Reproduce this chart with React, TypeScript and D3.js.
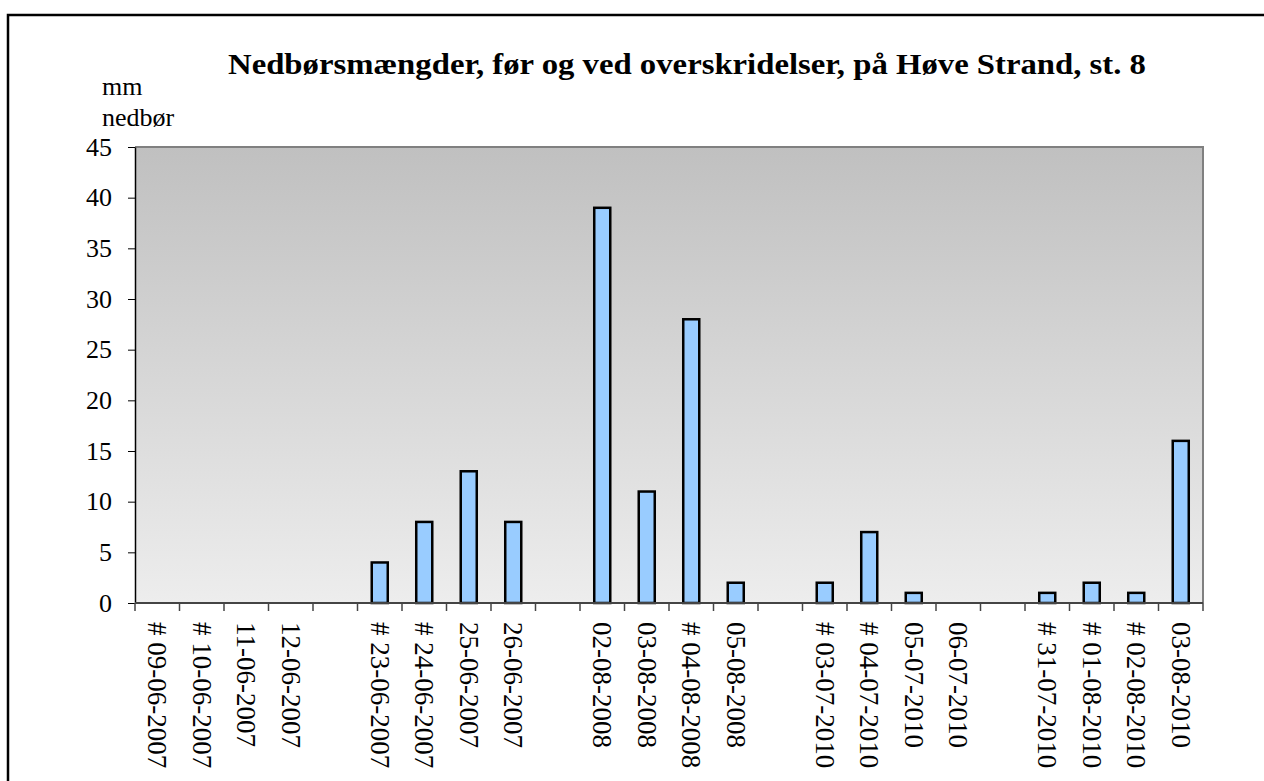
import React, { useEffect, useRef } from 'react';
import * as d3 from 'd3';

// slots: blank entries are the gaps between groups
const categories = [
  '# 09-06-2007', '# 10-06-2007', '11-06-2007', '12-06-2007', '',
  '# 23-06-2007', '# 24-06-2007', '25-06-2007', '26-06-2007', ' ',
  '02-08-2008', '03-08-2008', '# 04-08-2008', '05-08-2008', '  ',
  '# 03-07-2010', '# 04-07-2010', '05-07-2010', '06-07-2010', '   ',
  '# 31-07-2010', '# 01-08-2010', '# 02-08-2010', '03-08-2010',
];
const values: (number | null)[] = [
  0, 0, 0, 0, null,
  4, 8, 13, 8, null,
  39, 11, 28, 2, null,
  2, 7, 1, 0, null,
  1, 2, 1, 16,
];
const yTicks = [0, 5, 10, 15, 20, 25, 30, 35, 40, 45];

const W = 1264;
const H = 781;
const FONT = '"Liberation Serif", "Times New Roman", serif';

const App: React.FC = () => {
  const ref = useRef<SVGSVGElement>(null);

  useEffect(() => {
    const svg = d3.select(ref.current).html('');
    const plot = { left: 135, right: 1203, top: 147, bottom: 603 };

    const x = d3.scaleBand<number>()
      .domain(d3.range(categories.length))
      .range([plot.left, plot.right]);
    const y = d3.scaleLinear().domain([0, 45]).range([plot.bottom, plot.top]);

    // outer frame
    svg.append('rect')
      .attr('x', 8).attr('y', 15).attr('width', W).attr('height', H)
      .attr('fill', 'white').attr('stroke', '#000').attr('stroke-width', 2.5);

    const grad = svg.append('defs').append('linearGradient')
      .attr('id', 'bg').attr('x1', 0).attr('y1', 0).attr('x2', 0).attr('y2', 1);
    grad.append('stop').attr('offset', '0%').attr('stop-color', '#c0c0c0');
    grad.append('stop').attr('offset', '100%').attr('stop-color', '#ededed');

    svg.append('rect')
      .attr('x', plot.left).attr('y', plot.top)
      .attr('width', plot.right - plot.left).attr('height', plot.bottom - plot.top)
      .attr('fill', 'url(#bg)');

    // top + right border
    svg.append('path')
      .attr('d', `M${plot.left},${plot.top}H${plot.right}V${plot.bottom}`)
      .attr('fill', 'none').attr('stroke', '#808080').attr('stroke-width', 2);

    // bars
    const bw = x.bandwidth() * 0.36;
    svg.append('g').selectAll('rect')
      .data(values.map((v, i) => ({ v, i })).filter(d => d.v !== null && d.v > 0))
      .enter().append('rect')
      .attr('x', d => x(d.i)! + x.bandwidth() / 2 - bw / 2)
      .attr('y', d => y(d.v!))
      .attr('width', bw)
      .attr('height', d => plot.bottom - y(d.v!))
      .attr('fill', '#99ccff')
      .attr('stroke', '#000')
      .attr('stroke-width', 2.5);

    // y axis
    const yAxis = svg.append('g')
      .attr('transform', `translate(${plot.left},0)`)
      .call(d3.axisLeft(y).tickValues(yTicks).tickSize(7).tickPadding(16).tickSizeOuter(0));
    yAxis.select('.domain').attr('stroke', '#000').attr('stroke-width', 1.5);
    yAxis.selectAll('line').attr('stroke', '#000');
    yAxis.selectAll('text')
      .attr('font-family', FONT).attr('font-size', 26).attr('fill', '#000');

    // x axis: ticks at slot boundaries
    const bounds = d3.range(categories.length + 1).map(i =>
      i < categories.length ? x(i)! : x(categories.length - 1)! + x.bandwidth());
    const xg = svg.append('g');
    xg.append('line')
      .attr('x1', plot.left).attr('x2', plot.right)
      .attr('y1', plot.bottom).attr('y2', plot.bottom)
      .attr('stroke', '#444').attr('stroke-width', 2);
    xg.selectAll('line.tick')
      .data(bounds).enter().append('line')
      .attr('class', 'tick')
      .attr('x1', d => d).attr('x2', d => d)
      .attr('y1', plot.bottom).attr('y2', plot.bottom + 8)
      .attr('stroke', '#444').attr('stroke-width', 1.5);
    xg.selectAll('text')
      .data(categories.map((c, i) => ({ c: c.trim(), i })).filter(d => d.c))
      .enter().append('text')
      .attr('transform', d => `translate(${x(d.i)! + x.bandwidth() / 2 - 9},${plot.bottom + 19}) rotate(90)`)
      .attr('font-family', FONT).attr('font-size', 27)
      .text(d => d.c);

    // title
    svg.append('text')
      .attr('x', 228).attr('y', 74)
      .attr('font-family', FONT).attr('font-size', 30).attr('font-weight', 'bold')
      .attr('textLength', 918).attr('lengthAdjust', 'spacingAndGlyphs')
      .text('Nedbørsmængder, før og ved overskridelser, på Høve Strand, st. 8');

    // y axis label
    svg.append('text').attr('x', 102).attr('y', 95)
      .attr('font-family', FONT).attr('font-size', 26).text('mm');
    svg.append('text').attr('x', 102).attr('y', 126)
      .attr('font-family', FONT).attr('font-size', 26).text('nedbør');
  }, []);

  return (
    <svg ref={ref} width={W} height={H}
      style={{ position: 'absolute', left: 0, top: 0, background: 'white' }} />
  );
};

export default App;
